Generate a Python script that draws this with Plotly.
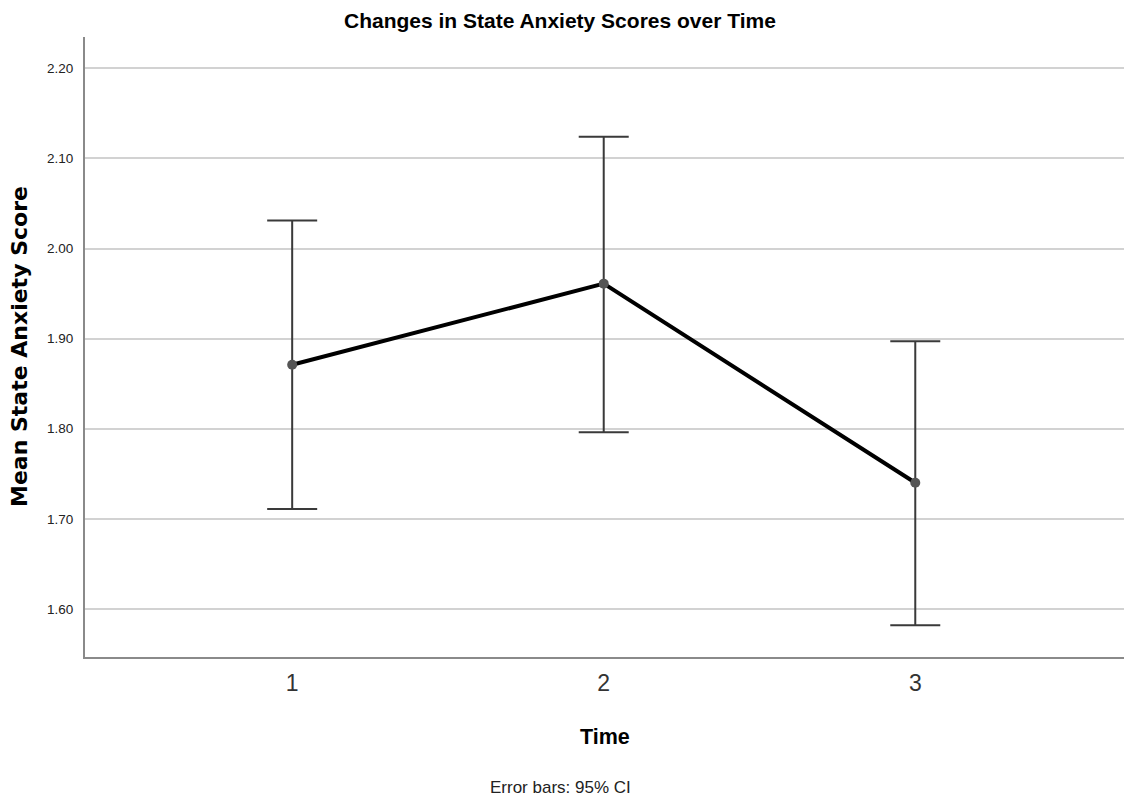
import plotly.graph_objects as go

time_labels = ["1", "2", "3"]
time_pos = [1, 2, 3]
mean_scores = [1.871, 1.961, 1.740]
ci_upper = [2.031, 2.124, 1.897]
ci_lower = [1.711, 1.796, 1.582]
y_ticks = [1.60, 1.70, 1.80, 1.90, 2.00, 2.10, 2.20]

err_plus = [u - m for u, m in zip(ci_upper, mean_scores)]
err_minus = [m - l for m, l in zip(mean_scores, ci_lower)]

FONT = "Liberation Sans, Arial, sans-serif"
WIDE = "DejaVu Sans, Liberation Sans, Arial, sans-serif"

fig = go.Figure()
fig.add_trace(go.Scatter(
    x=time_pos, y=mean_scores,
    mode="lines+markers",
    line=dict(color="black", width=4),
    marker=dict(color="#555555", size=10),
    error_y=dict(type="data", symmetric=False, array=err_plus, arrayminus=err_minus,
                 color="#3a3a3a", thickness=2, width=25),
    showlegend=False,
    hoverinfo="skip",
))

fig.update_layout(
    width=1126, height=801,
    margin=dict(l=85, r=2, t=37, b=144),
    paper_bgcolor="white", plot_bgcolor="white",
    font=dict(family=FONT, color="#222222"),
    xaxis=dict(
        range=[0.335, 3.67],
        tickvals=time_pos, ticktext=time_labels,
        showgrid=False, zeroline=False,
        showline=True, linecolor="#8a8a8a", linewidth=2,
        ticks="", ticklabelstandoff=4,
        tickfont=dict(family=FONT, size=23, color="#333333"),
    ),
    yaxis=dict(
        range=[1.5467, 2.2347],
        tickvals=y_ticks, ticktext=[f"{v:.2f}" for v in y_ticks],
        showgrid=True, gridcolor="#d2d2d2", gridwidth=2,
        zeroline=False,
        showline=True, linecolor="#8a8a8a", linewidth=2,
        ticks="", ticklabelstandoff=7,
        tickfont=dict(family=FONT, size=13.5, color="#222222"),
    ),
    annotations=[
        dict(text="<b>Changes in State Anxiety Scores over Time</b>", x=(560 - 85) / 1039, xref="paper",
             y=1.027, yref="paper", showarrow=False, font=dict(family=FONT, size=21, color="black"),
             xanchor="center", yanchor="middle"),
        dict(text="<b>Time</b>", x=0.5, xref="paper", y=-0.129, yref="paper", showarrow=False,
             font=dict(family=FONT, size=21.5, color="black"), xanchor="center", yanchor="middle"),
        dict(text="Error bars: 95% CI", x=(560 - 85) / 1039, xref="paper", y=-0.21, yref="paper",
             showarrow=False, font=dict(family=FONT, size=17, color="#222222"),
             xanchor="center", yanchor="middle"),
        dict(text="<b>Mean State Anxiety Score</b>", x=(19 - 85) / 1039, xref="paper", y=0.5, yref="paper",
             showarrow=False, textangle=-90, font=dict(family=WIDE, size=22, color="black"),
             xanchor="center", yanchor="middle"),
    ],
)

fig.write_html("out.html")
